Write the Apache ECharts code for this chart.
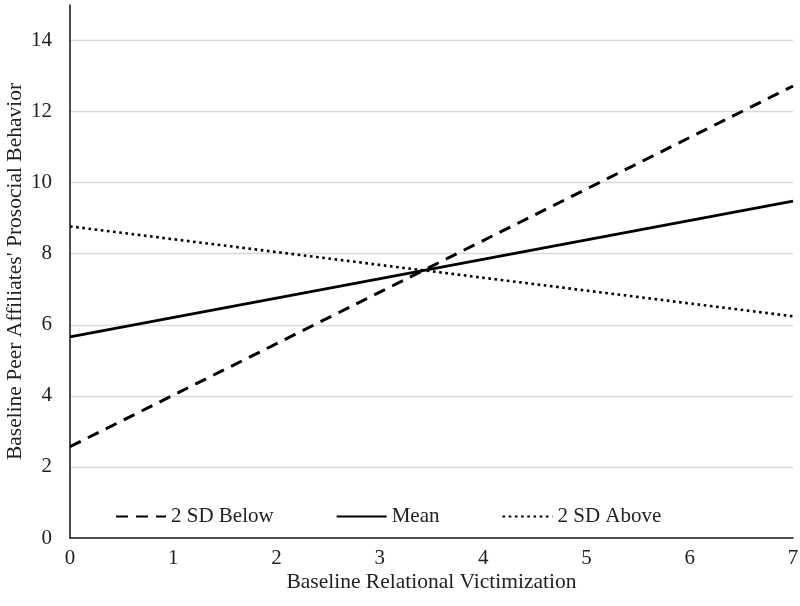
<!DOCTYPE html>
<html>
<head>
<meta charset="utf-8">
<script src="https://cdn.jsdelivr.net/npm/echarts@6/dist/echarts.min.js"></script>
<style>html,body{margin:0;padding:0;background:#fff}#c{width:800px;height:606px}</style>
</head>
<body>
<div id="c"></div>
<script>
var xValues = [0, 7];
var seriesNames = ['2 SD Below', 'Mean', '2 SD Above'];
var below2SD = [2.57, 12.72];
var meanVals = [5.66, 9.48];
var above2SD = [8.77, 6.24];
var yTicks = [0, 2, 4, 6, 8, 10, 12, 14];

function pairs(ys) { return xValues.map(function (x, i) { return [x, ys[i]]; }); }

var font = '"Liberation Serif", "Times New Roman", serif';
var chart = echarts.init(document.getElementById('c'), null, {renderer: 'canvas'});
chart.setOption({
  animation: false,
  backgroundColor: '#fff',
  grid: {left: 70, right: 7, top: 5, bottom: 68, containLabel: false, outerBoundsMode: 'none'},
  legend: {
    left: 110, top: 501, itemWidth: 50, itemHeight: 14, itemGap: 62,
    textStyle: {fontFamily: font, fontSize: 21, color: '#222'},
    itemStyle: {opacity: 0},
    data: seriesNames
  },
  xAxis: {
    type: 'value', min: 0, max: 7, interval: 1,
    name: 'Baseline Relational Victimization', nameLocation: 'middle', nameGap: 33,
    nameMoveOverlap: false,
    nameTextStyle: {fontFamily: font, fontSize: 21.5, color: '#222'},
    axisLine: {show: true, lineStyle: {color: '#111', width: 1.5}},
    axisTick: {show: false},
    splitLine: {show: false},
    axisLabel: {fontFamily: font, fontSize: 21, color: '#222', margin: 10}
  },
  yAxis: {
    type: 'value', min: 0, max: 15, interval: 2,
    name: "Baseline Peer Affiliates' Prosocial Behavior", nameLocation: 'middle', nameGap: 44,
    nameMoveOverlap: false,
    nameTextStyle: {fontFamily: font, fontSize: 21.5, color: '#222'},
    axisLine: {show: true, lineStyle: {color: '#111', width: 1.5}},
    axisTick: {show: false},
    splitLine: {show: true, showMinLine: false, showMaxLine: false, lineStyle: {color: '#d9d9d9', width: 1.3}},
    axisLabel: {
      fontFamily: font, fontSize: 21, color: '#222', margin: 18, showMaxLabel: false,
      formatter: function (v) { return yTicks.indexOf(v) >= 0 ? String(v) : ''; }
    }
  },
  series: [
    {name: seriesNames[0], type: 'line', data: pairs(below2SD), symbol: 'none',
     lineStyle: {color: '#000', width: 3, type: [12, 8]}, itemStyle: {color: '#000'}},
    {name: seriesNames[1], type: 'line', data: pairs(meanVals), symbol: 'none',
     lineStyle: {color: '#000', width: 3, type: 'solid'}, itemStyle: {color: '#000'}},
    {name: seriesNames[2], type: 'line', data: pairs(above2SD), symbol: 'none',
     lineStyle: {color: '#000', width: 2.6, type: [2.6, 3.6]}, itemStyle: {color: '#000'}}
  ]
});
</script>
</body>
</html>
